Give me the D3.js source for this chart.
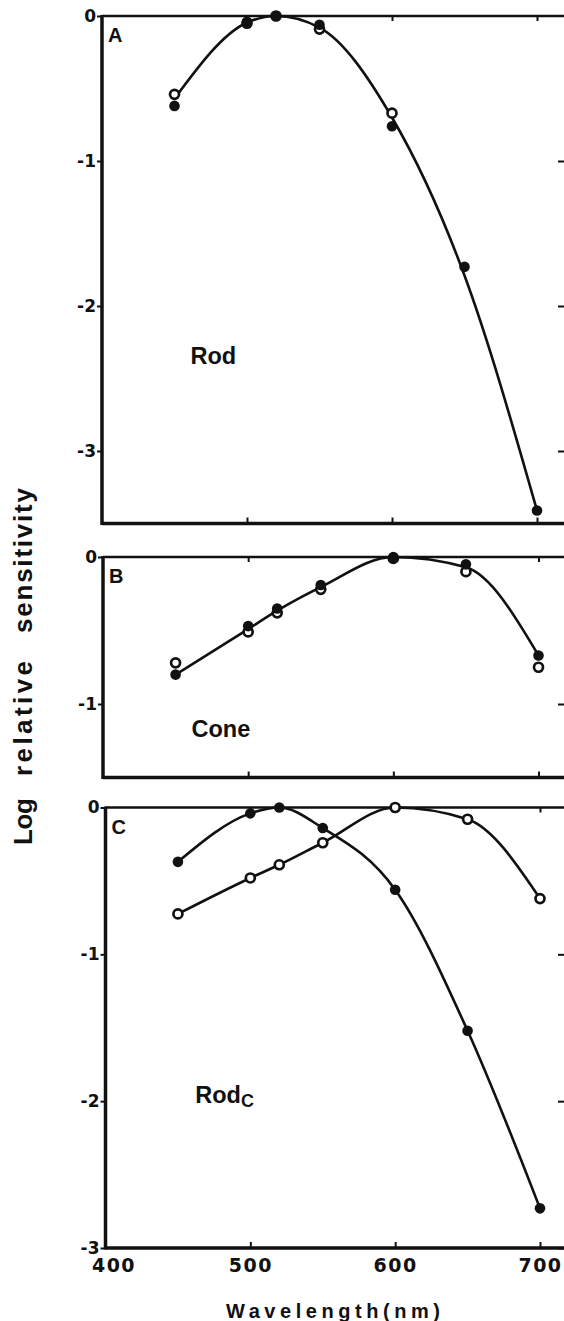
<!DOCTYPE html>
<html>
<head>
<meta charset="utf-8">
<script src="https://cdn.jsdelivr.net/npm/d3@7"></script>
<style>
  body { margin: 0; background: #fff; overflow: hidden; }
  svg { display: block; }
</style>
</head>
<body>
<div id="viz"></div>
<script>
// wavelengths (nm) of the test lights
const wavelengths = [450, 500, 520, 550, 600, 650, 700];

// panel A - rod: filled / open symbols and the drawn template curve
const rodFilled = [-0.62, -0.04, 0, -0.06, -0.76, -1.73, -3.41];
const rodOpen = [-0.54, -0.05, 0, -0.09, -0.67, null, null];
const rodCurve = [-0.57, -0.045, 0, -0.08, -0.70, -1.79, -3.41];

// panel B - cone
const coneFilled = [-0.80, -0.47, -0.35, -0.19, 0, -0.05, -0.67];
const coneOpen = [-0.72, -0.51, -0.38, -0.22, -0.01, -0.10, -0.75];
const coneCurve = [-0.80, -0.49, -0.365, -0.205, 0, -0.07, -0.67];

// panel C - rod (filled) and cone (open) curves
const rodCFilled = [-0.37, -0.04, 0, -0.14, -0.56, -1.52, -2.73];
const coneCOpen = [-0.725, -0.48, -0.39, -0.24, 0, -0.08, -0.62];

// tick values and labels
const xTicks = [400, 500, 600, 700];
const xTickLabels = ['400', '500', '600', '700'];
const yTicksTall = [0, -1, -2, -3];
const yTicksShort = [0, -1];
const yTickLabels = ['0', '-1', '-2', '-3'];

const W = 564, H = 1321;
const svg = d3.select('#viz').append('svg')
  .attr('width', W)
  .attr('height', H);

const ink = '#111';
const numFont = "'DejaVu Sans', sans-serif";
const txtFont = "'Liberation Sans', Arial, sans-serif";

// layout of the three stacked panels
const panels = [
  { id: 'A', top: 16, bottom: 523.5, ymin: -3.5, x400: 102, x700: 537, ticks: yTicksTall,
    lines: [rodCurve], filled: [rodFilled], open: [rodOpen],
    label: 'Rod', labelAt: [461, -2.40] },
  { id: 'B', top: 557, bottom: 777.5, ymin: -1.5, x400: 103, x700: 538.5, ticks: yTicksShort,
    lines: [coneCurve], filled: [coneFilled], open: [coneOpen],
    label: 'Cone', labelAt: [461, -1.225] },
  { id: 'C', top: 807.5, bottom: 1248, ymin: -3, x400: 105.5, x700: 540, ticks: yTicksTall,
    lines: [rodCFilled, coneCOpen], filled: [rodCFilled], open: [coneCOpen],
    label: 'Rod', sub: 'C', labelAt: [462, -2.01], xLabels: true }
];

panels.forEach(p => {
  const x = d3.scaleLinear().domain([400, 700]).range([p.x400, p.x700]);
  const y = d3.scaleLinear().domain([p.ymin, 0]).range([p.bottom, p.top]);
  const g = svg.append('g');

  // frame (the right side runs off the page)
  g.append('line').attr('x1', x(400)).attr('x2', x(400)).attr('y1', p.top - 1).attr('y2', p.bottom + 1.5)
    .attr('stroke', ink).attr('stroke-width', 3.5);
  g.append('line').attr('x1', x(400)).attr('x2', W).attr('y1', p.top).attr('y2', p.top)
    .attr('stroke', ink).attr('stroke-width', 2.6);
  g.append('line').attr('x1', x(400)).attr('x2', W).attr('y1', p.bottom).attr('y2', p.bottom)
    .attr('stroke', ink).attr('stroke-width', 3.5);

  // left axis with labels
  const yAxis = g.append('g')
    .attr('transform', `translate(${x(400)},0)`)
    .call(d3.axisLeft(y).tickValues(p.ticks)
      .tickFormat(d => yTickLabels[yTicksTall.indexOf(d)])
      .tickSize(5).tickPadding(1));
  yAxis.select('.domain').remove();
  yAxis.selectAll('line').attr('stroke', ink).attr('stroke-width', 2);
  yAxis.selectAll('text').attr('font-family', numFont).attr('font-weight', 'bold')
    .attr('font-size', 17).attr('fill', ink);

  // right-edge inward ticks
  const rAxis = g.append('g')
    .attr('transform', `translate(${W + 1},0)`)
    .call(d3.axisLeft(y).tickValues(p.ticks.slice(1)).tickSize(7).tickFormat(''));
  rAxis.select('.domain').remove();
  rAxis.selectAll('line').attr('stroke', ink).attr('stroke-width', 2);

  // top and bottom inward ticks
  const topAx = g.append('g')
    .attr('transform', `translate(0,${p.top})`)
    .call(d3.axisBottom(x).tickValues(xTicks.slice(1)).tickSize(5).tickFormat(''));
  const botAx = g.append('g')
    .attr('transform', `translate(0,${p.bottom})`)
    .call(d3.axisTop(x).tickValues(xTicks.slice(1)).tickSize(6).tickFormat(''));
  [topAx, botAx].forEach(a => {
    a.select('.domain').remove();
    a.selectAll('line').attr('stroke', ink).attr('stroke-width', 2);
  });

  if (p.xLabels) {
    const xl = g.append('g')
      .attr('transform', `translate(0,${p.bottom})`)
      .call(d3.axisBottom(x).tickValues(xTicks)
        .tickFormat((d, i) => xTickLabels[i]).tickSize(0).tickPadding(11));
    xl.select('.domain').remove();
    xl.selectAll('text').attr('font-family', numFont).attr('font-weight', 'bold')
      .attr('font-size', 19).attr('letter-spacing', 1.5).attr('fill', ink);
    xl.selectAll('text').filter(d => d === 400).attr('dx', 8);
  }

  // curves
  const line = d3.line()
    .defined(d => d[1] != null)
    .x(d => x(d[0]))
    .y(d => y(d[1]))
    .curve(d3.curveMonotoneX);
  p.lines.forEach(vals => {
    g.append('path')
      .datum(wavelengths.map((w, i) => [w, vals[i]]))
      .attr('d', line)
      .attr('fill', 'none')
      .attr('stroke', ink)
      .attr('stroke-width', 2.6);
  });

  // open symbols
  p.open.forEach(vals => {
    g.selectAll(null)
      .data(wavelengths.map((w, i) => [w, vals[i]]).filter(d => d[1] != null))
      .enter().append('circle')
      .attr('cx', d => x(d[0]))
      .attr('cy', d => y(d[1]))
      .attr('r', 4.5)
      .attr('fill', '#fff')
      .attr('stroke', ink)
      .attr('stroke-width', 2.7);
  });

  // filled symbols
  p.filled.forEach(vals => {
    g.selectAll(null)
      .data(wavelengths.map((w, i) => [w, vals[i]]).filter(d => d[1] != null))
      .enter().append('circle')
      .attr('cx', d => x(d[0]))
      .attr('cy', d => y(d[1]))
      .attr('r', 5.3)
      .attr('fill', ink);
  });

  // panel letter
  g.append('text')
    .attr('x', x(400) + 6)
    .attr('y', p.top + 26)
    .attr('font-family', txtFont).attr('font-weight', 'bold')
    .attr('font-size', 20).attr('fill', ink)
    .text(p.id);

  // photoreceptor label
  const lab = g.append('text')
    .attr('x', x(p.labelAt[0]))
    .attr('y', y(p.labelAt[1]))
    .attr('font-family', txtFont).attr('font-weight', 'bold')
    .attr('font-size', 23.5).attr('fill', ink)
    .text(p.label);
  if (p.sub) {
    lab.append('tspan')
      .attr('dy', 4)
      .attr('font-size', 18)
      .text(p.sub);
  }
});

// y axis title, one word at a time, reading upward
const yWords = [
  { text: 'Log', from: 845, to: 798 },
  { text: 'relative', from: 776, to: 661 },
  { text: 'sensitivity', from: 633, to: 488 }
];
yWords.forEach(w => {
  svg.append('text')
    .attr('transform', `translate(32,${w.from}) rotate(-90)`)
    .attr('font-family', txtFont).attr('font-weight', 'bold')
    .attr('font-size', 26).attr('fill', ink)
    .attr('textLength', w.from - w.to)
    .attr('lengthAdjust', 'spacing')
    .text(w.text);
});

// x axis title
svg.append('text')
  .attr('x', 226)
  .attr('y', 1318)
  .attr('font-family', txtFont).attr('font-weight', 'bold')
  .attr('font-size', 20).attr('fill', ink)
  .attr('textLength', 214)
  .attr('lengthAdjust', 'spacing')
  .text('Wavelength(nm)');
</script>
</body>
</html>
